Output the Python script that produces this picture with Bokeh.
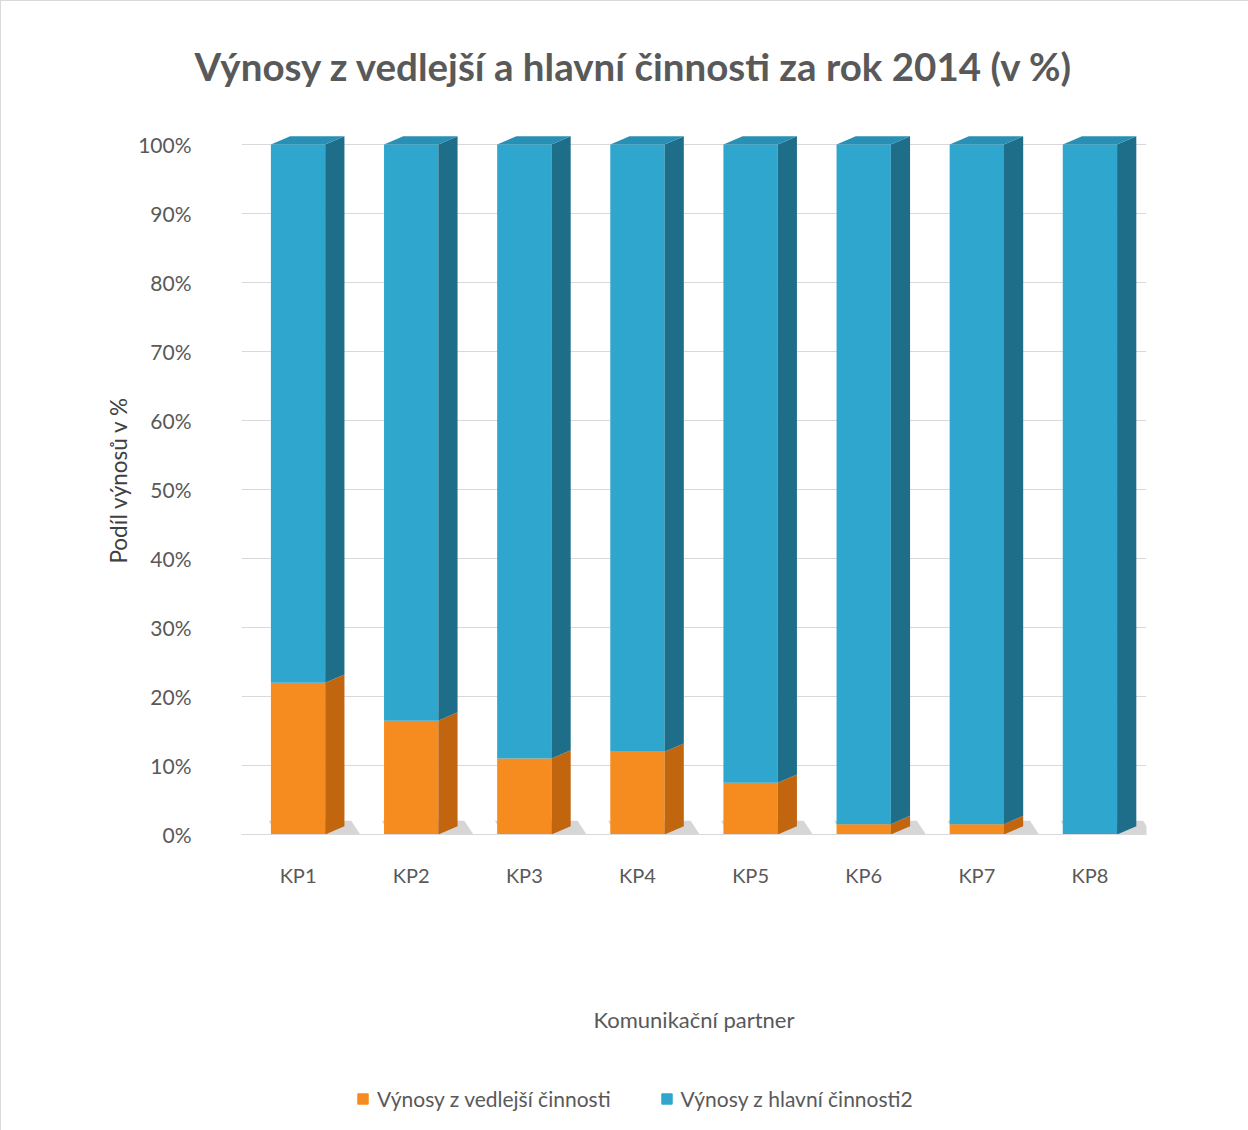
from bokeh.plotting import figure
from bokeh.layouts import column
from bokeh.models import (ColumnDataSource, Legend, LegendItem, NumeralTickFormatter,
                          FactorRange, Range1d, FixedTicker, Title)
from bokeh.embed import file_html
from bokeh.resources import INLINE

# ---- data ----
categories = ["KP1", "KP2", "KP3", "KP4", "KP5", "KP6", "KP7", "KP8"]
vedlejsi = [0.22, 0.165, 0.11, 0.12, 0.075, 0.015, 0.015, 0.0]
hlavni = [round(1.0 - v, 4) for v in vedlejsi]
series_names = ["Výnosy z vedlejší činnosti", "Výnosy z hlavní činnosti2"]
y_ticks = [0.0, 0.1, 0.2, 0.3, 0.4, 0.5, 0.6, 0.7, 0.8, 0.9, 1.0]
title_text = "Výnosy z vedlejší a hlavní činnosti za rok 2014 (v %)"
x_title = "Komunikační partner"
y_title = "Podíl výnosů v %"

# ---- style ----
FONT = "Lato"
TXT = "#595959"
ORANGE, ORANGE_SIDE, ORANGE_TOP = "#F68C1F", "#C2650F", "#E07E18"
BLUE, BLUE_SIDE, BLUE_TOP = "#2FA6CE", "#1E6E8A", "#2890B5"
BAR_W = 0.48
DX, DY = 0.17, 0.012

p = figure(width=1248, height=1075, x_range=FactorRange(*categories),
           y_range=Range1d(0, 1.0275), output_backend="svg", toolbar_location=None,
           min_border_left=240, min_border_right=103, min_border_top=124,
           min_border_bottom=242)
p.outline_line_color = None
p.background_fill_color = "white"
p.border_fill_color = "white"

t = Title(text=title_text, align="left", text_font=FONT, text_font_size="38.5px",
          text_font_style="bold", text_color=TXT, standoff=74, offset=-47)
p.add_layout(t, "above")

data = {"cat": categories, "vedlejsi": vedlejsi, "hlavni": hlavni}
src = ColumnDataSource(data)

# 3D side faces and top caps computed from the data (synthetic categorical coords)
sx, sy, sc = [], [], []
for i, (v, h) in enumerate(zip(vedlejsi, hlavni)):
    xr = i + 0.5 + BAR_W / 2
    xl = i + 0.5 - BAR_W / 2
    segs = [(0.0, v, ORANGE_SIDE), (v, v + h, BLUE_SIDE)]
    for y0, y1, c in segs:
        if y1 - y0 <= 0:
            continue
        sx.append([xr, xr + DX, xr + DX, xr])
        sy.append([y0, y0 + DY, y1 + DY, y1])
        sc.append(c)
    top = v + h
    sx.append([xl, xr, xr + DX, xl + DX])
    sy.append([top, top, top + DY, top + DY])
    sc.append(BLUE_TOP if h > 0 else ORANGE_TOP)

# soft shadows on the floor
shx, shy = [], []
for i in range(len(categories)):
    xl = i + 0.5 - BAR_W / 2
    xr = i + 0.5 + BAR_W / 2
    shx.append([xl + 0.05, xr + DX + 0.14, xr + DX + 0.06, xl - 0.02])
    shy.append([0.0, 0.0, 0.02, 0.02])
p.patches(shx, shy, fill_color="#8a8a8a", fill_alpha=0.35, line_color=None)

rs = p.vbar_stack(["vedlejsi", "hlavni"], x="cat", width=BAR_W, source=src,
                  color=[ORANGE, BLUE], line_color=None)
p.patches(sx, sy, fill_color=sc, line_color=None)

p.yaxis.ticker = FixedTicker(ticks=y_ticks)
p.yaxis.formatter = NumeralTickFormatter(format="0%")
p.yaxis.axis_line_color = None
p.yaxis.major_tick_line_color = None
p.yaxis.minor_tick_line_color = None
p.yaxis.major_label_standoff = 44
p.yaxis.major_label_text_font = FONT
p.yaxis.major_label_text_font_size = "21px"
p.yaxis.major_label_text_color = TXT
p.yaxis.axis_label = y_title
p.yaxis.axis_label_text_font = FONT
p.yaxis.axis_label_text_font_size = "22.5px"
p.yaxis.axis_label_text_font_style = "normal"
p.yaxis.axis_label_text_color = "#404040"
p.yaxis.axis_label_standoff = 3

p.xaxis.axis_line_color = "#D9D9D9"
p.xaxis.major_tick_line_color = None
p.xaxis.minor_tick_line_color = None
p.xaxis.major_label_standoff = 22
p.xaxis.major_label_text_font = FONT
p.xaxis.major_label_text_font_size = "20px"
p.xaxis.major_label_text_color = TXT
p.xaxis.axis_label = x_title
p.xaxis.axis_label_text_font = FONT
p.xaxis.axis_label_text_font_size = "22px"
p.xaxis.axis_label_text_font_style = "normal"
p.xaxis.axis_label_text_color = TXT
p.xaxis.axis_label_standoff = 116

p.xgrid.grid_line_color = None
p.ygrid.grid_line_color = "#D9D9D9"
p.ygrid.ticker = FixedTicker(ticks=y_ticks)

# ---- legend strip below the chart ----
pl = figure(width=1248, height=55, x_range=Range1d(0, 1), y_range=Range1d(0, 1),
            output_backend="svg", toolbar_location=None,
            min_border_left=240, min_border_right=103, min_border_top=0, min_border_bottom=0)
pl.axis.visible = False
pl.grid.visible = False
pl.outline_line_color = None
offscreen = ColumnDataSource({"x": [-5.0], "top": [0.0]})
lr0 = pl.vbar(x="x", top="top", width=0.1, source=offscreen, color=ORANGE)
lr1 = pl.vbar(x="x", top="top", width=0.1, source=offscreen, color=BLUE)
legend = Legend(items=[LegendItem(label=series_names[0], renderers=[lr0]),
                       LegendItem(label=series_names[1], renderers=[lr1])],
                orientation="horizontal", location=(115, 20),
                label_text_font=FONT, label_text_font_size="21px",
                label_text_color=TXT, glyph_width=13, glyph_height=13,
                spacing=49, label_standoff=8, border_line_color=None,
                background_fill_alpha=0, margin=0)
pl.add_layout(legend, "center")

layout = column(p, pl, spacing=0)
layout.styles = {"border": "1px solid #D9D9D9"}

open("out.html", "w").write(file_html(layout, INLINE))
